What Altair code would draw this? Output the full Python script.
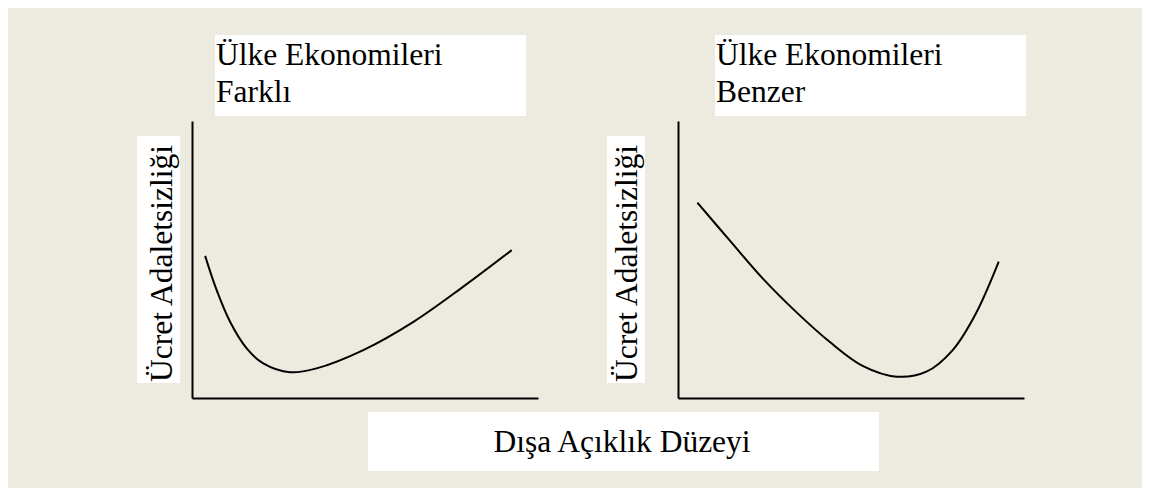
import altair as alt
import pandas as pd

# ---- data (panel units 0..10) ----
left_x = [0.38, 0.71, 1.10, 1.58, 2.06, 2.83, 3.60, 4.95, 6.40, 7.84, 9.24]
left_y = [5.13, 3.90, 2.75, 1.79, 1.25, 0.93, 1.07, 1.73, 2.75, 4.02, 5.34]
right_x = [0.56, 1.50, 2.46, 3.42, 4.39, 5.35, 6.32, 7.18, 7.94, 8.61, 9.27]
right_y = [7.05, 5.68, 4.30, 3.10, 2.02, 1.15, 0.77, 0.95, 1.73, 3.05, 4.92]

left_title = ["Ülke Ekonomileri", "Farklı"]
right_title = ["Ülke Ekonomileri", "Benzer"]
y_label = "Ücret Adaletsizliği"
x_label = "Dışa Açıklık Düzeyi"

FONT = "Liberation Serif"
FS = 31.5
BG = "#EDEAE0"
W, H = 346, 277

one = pd.DataFrame({"k": [0]})


def panel(xs, ys, title_lines, title_x0, ylab_x0, ylab_x1, ylab_base, with_xlabel):
    df = pd.DataFrame({"x": xs, "y": ys})
    xsc = alt.Scale(domain=[0, 10], nice=False)
    ysc = alt.Scale(domain=[0, 10], nice=False)
    ax = alt.Axis(title=None, labels=False, ticks=False, grid=False,
                  domainColor="black", domainWidth=2)
    curve = alt.Chart(df).mark_line(
        color="black", strokeWidth=2, interpolate="catmull-rom"
    ).encode(
        x=alt.X("x:Q", scale=xsc, axis=ax),
        y=alt.Y("y:Q", scale=ysc, axis=ax),
    )
    base = alt.Chart(one)
    tbox = base.mark_rect(fill="white").encode(
        x=alt.value(title_x0 - 1), x2=alt.value(title_x0 + 310),
        y=alt.value(-86), y2=alt.value(-5))
    ttext = base.mark_text(
        font=FONT, fontSize=FS, align="left", baseline="alphabetic",
        lineHeight=37, color="black"
    ).encode(x=alt.value(title_x0), y=alt.value(-56),
             text=alt.value(title_lines))
    ybox = base.mark_rect(fill="white").encode(
        x=alt.value(ylab_x0), x2=alt.value(ylab_x1),
        y=alt.value(15), y2=alt.value(262))
    ytext = base.mark_text(
        font=FONT, fontSize=FS, align="left", baseline="alphabetic",
        angle=270, color="black"
    ).encode(x=alt.value(ylab_base), y=alt.value(261),
             text=alt.value(y_label))
    layers = [tbox, ttext, ybox, ytext, curve]
    if with_xlabel:
        xbox = base.mark_rect(fill="white").encode(
            x=alt.value(176), x2=alt.value(687),
            y=alt.value(291), y2=alt.value(350))
        xtext = base.mark_text(
            font=FONT, fontSize=FS, align="center", baseline="alphabetic",
            color="black"
        ).encode(x=alt.value(430), y=alt.value(331),
                 text=alt.value(x_label))
        layers += [xbox, xtext]
    return alt.layer(*layers).properties(width=W, height=H)


left = panel(left_x, left_y, left_title, 24, -55, -12, -20, True)
right = panel(right_x, right_y, right_title, 38, -71, -33, -41, False)

chart = alt.hconcat(left, right, spacing=140, bounds="flush").properties(
    background=BG,
    padding={"left": 129, "top": 27, "right": 116, "bottom": 17},
).configure_text(font=FONT).configure_view(stroke=None)

chart.save("out.html", embed_options={"renderer": "svg", "actions": False})
